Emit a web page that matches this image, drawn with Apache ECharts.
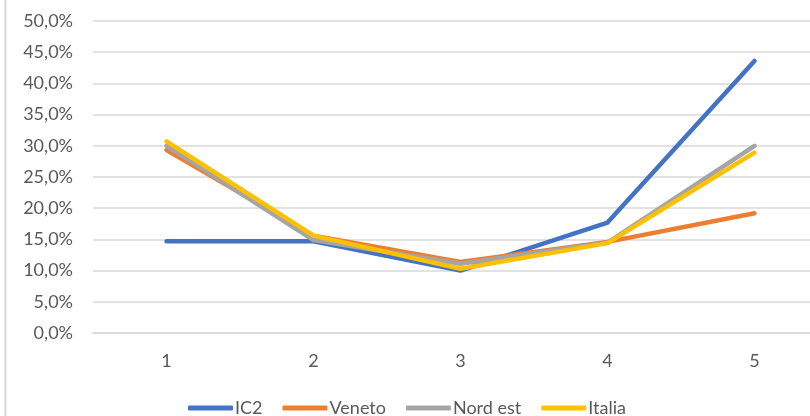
<!DOCTYPE html>
<html>
<head>
<meta charset="utf-8">
<script src="https://cdn.jsdelivr.net/npm/echarts@6/dist/echarts.min.js"></script>
<style>
html,body{margin:0;padding:0;background:#fff;overflow:hidden;width:810px;height:416px;}
#chart{width:828px;height:416px;}
</style>
</head>
<body>
<div id="chart"></div>
<script>
var categories = ['1', '2', '3', '4', '5'];
var ic2 = [14.7, 14.7, 10.0, 17.7, 43.6];
var veneto = [29.3, 15.6, 11.4, 14.6, 19.2];
var nordEst = [30.0, 14.9, 11.1, 14.5, 30.0];
var italia = [30.7, 15.6, 10.3, 14.4, 28.9];
var seriesNames = ['IC2', 'Veneto', 'Nord est', 'Italia'];
var colors = ['#4472C4', '#ED7D31', '#A5A5A5', '#FFC000'];

var chart = echarts.init(document.getElementById('chart'));
var font = 'Lato, "Noto Sans", sans-serif';
var data = [ic2, veneto, nordEst, italia];
var series = data.map(function (d, i) {
  return {
    name: seriesNames[i],
    type: 'line',
    data: d,
    showSymbol: false,
    symbol: 'none',
    smooth: false,
    lineStyle: { width: 4.5, color: colors[i], cap: 'round', join: 'round' },
    itemStyle: { color: colors[i] },
    animation: false
  };
});
chart.setOption({
  backgroundColor: '#fff',
  animation: false,
  color: colors,
  grid: { left: 93, right: 0, top: 21, height: 312, containLabel: false },
  xAxis: {
    type: 'category',
    data: categories,
    boundaryGap: true,
    axisLine: { show: true, lineStyle: { color: '#D9D9D9', width: 1.5 } },
    axisTick: { show: false },
    axisLabel: { color: '#595959', fontSize: 18, fontFamily: font, margin: 19 }
  },
  yAxis: {
    type: 'value',
    min: 0,
    max: 50,
    interval: 5,
    axisLine: { show: false },
    axisTick: { show: false },
    splitLine: { lineStyle: { color: '#D9D9D9', width: 1.5 } },
    axisLabel: {
      color: '#595959', fontSize: 18, fontFamily: font, margin: 20,
      formatter: function (v) { return v.toFixed(1).replace('.', ',') + '%'; }
    }
  },
  legend: {
    top: 394,
    left: 183,
    itemGap: 20,
    itemWidth: 45,
    itemHeight: 5,
    icon: 'roundRect',
    textStyle: { color: '#595959', fontSize: 18, fontFamily: font, padding: [0, 0, 0, -3] },
    data: seriesNames
  },
  graphic: [{
    type: 'line',
    shape: { x1: 5.5, y1: 0, x2: 5.5, y2: 416 },
    style: { stroke: '#D9D9D9', lineWidth: 2 }
  }],
  series: series
});
</script>
</body>
</html>
